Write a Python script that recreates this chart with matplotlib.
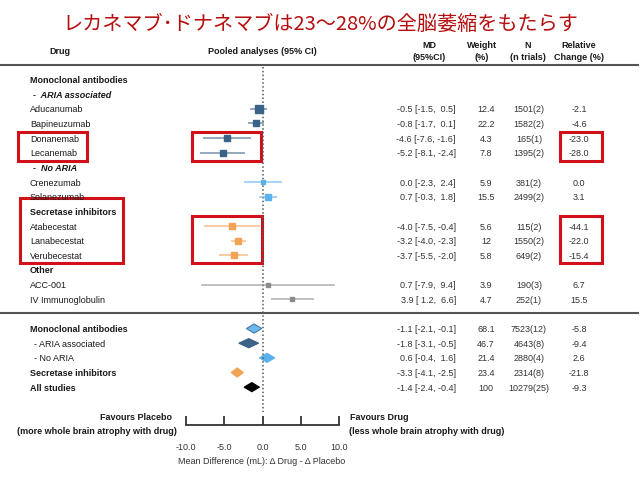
import matplotlib.pyplot as plt
from matplotlib.patches import Rectangle, Polygon

plt.rcParams['font.family'] = ['Liberation Sans', 'DejaVu Sans']

# --- data ---
drugs = ['Aducanumab', 'Bapineuzumab', 'Donanemab', 'Lecanemab',
         'Crenezumab', 'Solanezumab',
         'Atabecestat', 'Lanabecestat', 'Verubecestat',
         'ACC-001', 'IV Immunoglobulin']
md = [-0.5, -0.8, -4.6, -5.2, 0.0, 0.7, -4.0, -3.2, -3.7, 0.7, 3.9]
ci_lo = [-1.5, -1.7, -7.6, -8.1, -2.3, -0.3, -7.5, -4.0, -5.5, -7.9, 1.2]
ci_hi = [0.5, 0.1, -1.6, -2.4, 2.4, 1.8, -0.4, -2.3, -2.0, 9.4, 6.6]
weight = [12.4, 22.2, 4.3, 7.8, 5.9, 15.5, 5.6, 12, 5.8, 3.9, 4.7]
n_trials = ['1501(2)', '1582(2)', '165(1)', '1395(2)', '381(2)', '2499(2)',
            '115(2)', '1550(2)', '649(2)', '190(3)', '252(1)']
rel_change = [-2.1, -4.6, -23.0, -28.0, 0.0, 3.1, -44.1, -22.0, -15.4, 6.7, 15.5]
drug_group = ['aria', 'aria', 'aria', 'aria', 'noaria', 'noaria',
              'secretase', 'secretase', 'secretase', 'other', 'other']

sum_labels = ['Monoclonal antibodies', '- ARIA associated', '- No ARIA',
              'Secretase inhibitors', 'All studies']
sum_md = [-1.1, -1.8, 0.6, -3.3, -1.4]
sum_lo = [-2.1, -3.1, -0.4, -4.1, -2.4]
sum_hi = [-0.1, -0.5, 1.6, -2.5, -0.4]
sum_weight = [68.1, 46.7, 21.4, 23.4, 100]
sum_n = ['7523(12)', '4643(8)', '2880(4)', '2314(8)', '10279(25)']
sum_rel = [-5.8, -9.4, 2.6, -21.8, -9.3]
sum_group = ['mab', 'aria', 'noaria', 'secretase', 'all']

x_ticks = [-10, -5, 0, 5, 10]

# --- styling / layout ---
colors = {'aria': '#3b6287', 'noaria': '#5cb0ec', 'secretase': '#f2a354',
          'other': '#8c8c8c', 'mab': '#6cb8ef', 'all': '#000000'}
edge = {'mab': '#4a78a3'}
marker_px = [8, 5.5, 5.7, 5.7, 5, 6.7, 5.3, 6.3, 5.7, 4, 5]

row0, step = 80.5, 14.65
def row_y(i):
    return row0 + i * step

drug_rows = [2, 3, 4, 5, 7, 8, 10, 11, 12, 14, 15]
label_rows = [(0, 'Monoclonal antibodies', 'bold', 'normal'),
              (1, '-  ARIA associated', 'bold', 'italic'),
              (6, '-  No ARIA', 'bold', 'italic'),
              (9, 'Secretase inhibitors', 'bold', 'normal'),
              (13, 'Other', 'bold', 'normal')]
sum_rows = [17, 18, 19, 20, 21]

fs = 6.5
txt = '#1a1a1a'

fig = plt.figure(figsize=(6.4, 4.89), dpi=100)
lay = fig.add_axes([0, 0, 1, 1])
lay.set_xlim(0, 640)
lay.set_ylim(489, 0)
lay.axis('off')

ax = fig.add_axes([186 / 640, 0, 153 / 640, 1])
ax.set_xlim(-10, 10)
ax.set_ylim(489, 0)
ax.patch.set_visible(False)
for s in ['top', 'left', 'right']:
    ax.spines[s].set_visible(False)
ax.spines['bottom'].set_position(('data', 425.7))
ax.spines['bottom'].set_color('#333333')
ax.spines['bottom'].set_linewidth(1.3)
ax.set_yticks([])
ax.set_xticks(x_ticks)
ax.set_xticklabels([f'{t:.1f}' for t in x_ticks])
ax.tick_params(axis='x', direction='in', length=6.5, width=1.3, color='#333333',
               pad=12.5, labelsize=fs, labelcolor='#333333')

# title
fig.text(0.5, 1 - 24 / 489, 'レカネマブ･ドナネマブは23～28%の全脳萎縮をもたらす',
         color='#b50f0f', fontsize=14.5, ha='center', va='center',
         family=['Noto Sans CJK JP', 'DejaVu Sans'])

# header
lay.text(60, 52, 'Drug', fontsize=fs, fontweight='bold', ha='center', va='center', color=txt)
lay.text(262, 52, 'Pooled analyses (95% CI)', fontsize=fs, fontweight='bold',
         ha='center', va='center', color=txt)
for x, head in [(429, 'MD\n(95%CI)'), (482, 'Weight\n(%)'), (528, 'N\n(n trials)'),
                (579, 'Relative\nChange (%)')]:
    lay.text(x, 51.5, head, fontsize=fs, fontweight='bold', ha='center', va='center',
             color=txt, linespacing=1.3)
lay.plot([0, 638], [66, 66], color='#555555', lw=1.5)
lay.plot([0, 638], [314, 314], color='#555555', lw=1.5)

# zero line
ax.plot([0, 0], [68, 413], ls=(0, (1, 1.5)), color='#555555', lw=1.1)

# group labels
for r, lab, w, st in label_rows:
    x = 33 if lab.startswith('-') else 30
    lay.text(x, row_y(r), lab, fontsize=fs, fontweight=w, fontstyle=st,
             va='center', color=txt)

# individual studies
for i, name in enumerate(drugs):
    y = row_y(drug_rows[i])
    c = colors[drug_group[i]]
    lay.text(30, y, name, fontsize=fs, va='center', color=txt)
    ax.plot([ci_lo[i], ci_hi[i]], [y, y], color=c, alpha=0.55, lw=1.4)
    ax.plot(md[i], y, 's', ms=marker_px[i] * 0.72, color=c)
    lay.text(456, y, f'{md[i]:.1f} [{ci_lo[i]:4.1f}, {ci_hi[i]:4.1f}]',
             fontsize=fs, ha='right', va='center', color='#333333')
    lay.text(486, y, f'{weight[i]:g}', fontsize=fs, ha='center', va='center', color='#333333')
    lay.text(529, y, n_trials[i], fontsize=fs, ha='center', va='center', color='#333333')
    lay.text(579, y, f'{rel_change[i]:.1f}', fontsize=fs, ha='center', va='center',
             color='#333333')

# pooled summaries
for i, lab in enumerate(sum_labels):
    y = row_y(sum_rows[i])
    g = sum_group[i]
    bold = not lab.startswith('-')
    lay.text(30 if bold else 34, y, lab, fontsize=fs,
             fontweight='bold' if bold else 'normal', va='center', color=txt)
    h = 4.6
    ax.add_patch(Polygon([(sum_lo[i], y), (sum_md[i], y - h), (sum_hi[i], y),
                          (sum_md[i], y + h)], closed=True, fc=colors[g],
                         ec=edge.get(g, colors[g]), lw=0.8))
    lay.text(456, y, f'{sum_md[i]:.1f} [{sum_lo[i]:4.1f}, {sum_hi[i]:4.1f}]',
             fontsize=fs, ha='right', va='center', color='#333333')
    lay.text(486, y, f'{sum_weight[i]:g}', fontsize=fs, ha='center', va='center', color='#333333')
    lay.text(529, y, sum_n[i], fontsize=fs, ha='center', va='center', color='#333333')
    lay.text(579, y, f'{sum_rel[i]:.1f}', fontsize=fs, ha='center', va='center', color='#333333')

# axis annotations
lay.text(172, 417, 'Favours Placebo', fontsize=fs, fontweight='bold', ha='right',
         va='center', color=txt)
lay.text(177, 431, '(more whole brain atrophy with drug)', fontsize=fs,
         fontweight='bold', ha='right', va='center', color=txt)
lay.text(350, 417, 'Favours Drug', fontsize=fs, fontweight='bold', ha='left',
         va='center', color=txt)
lay.text(349, 431, '(less whole brain atrophy with drug)', fontsize=fs,
         fontweight='bold', ha='left', va='center', color=txt)
lay.text(262, 461, 'Mean Difference (mL): Δ Drug - Δ Placebo', fontsize=fs,
         ha='center', va='center', color='#333333')

# red highlight boxes
red = '#d2101a'
for x0, y0, x1, y1 in [(18, 133, 87, 162), (192, 133, 261, 162), (560, 133, 602, 162),
                       (20, 199, 123, 264), (192, 217, 262, 264), (560, 217, 602, 264)]:
    lay.add_patch(Rectangle((x0, y0), x1 - x0, y1 - y0, fill=False, ec=red, lw=2.2))

fig.savefig('out.png', dpi=100)
